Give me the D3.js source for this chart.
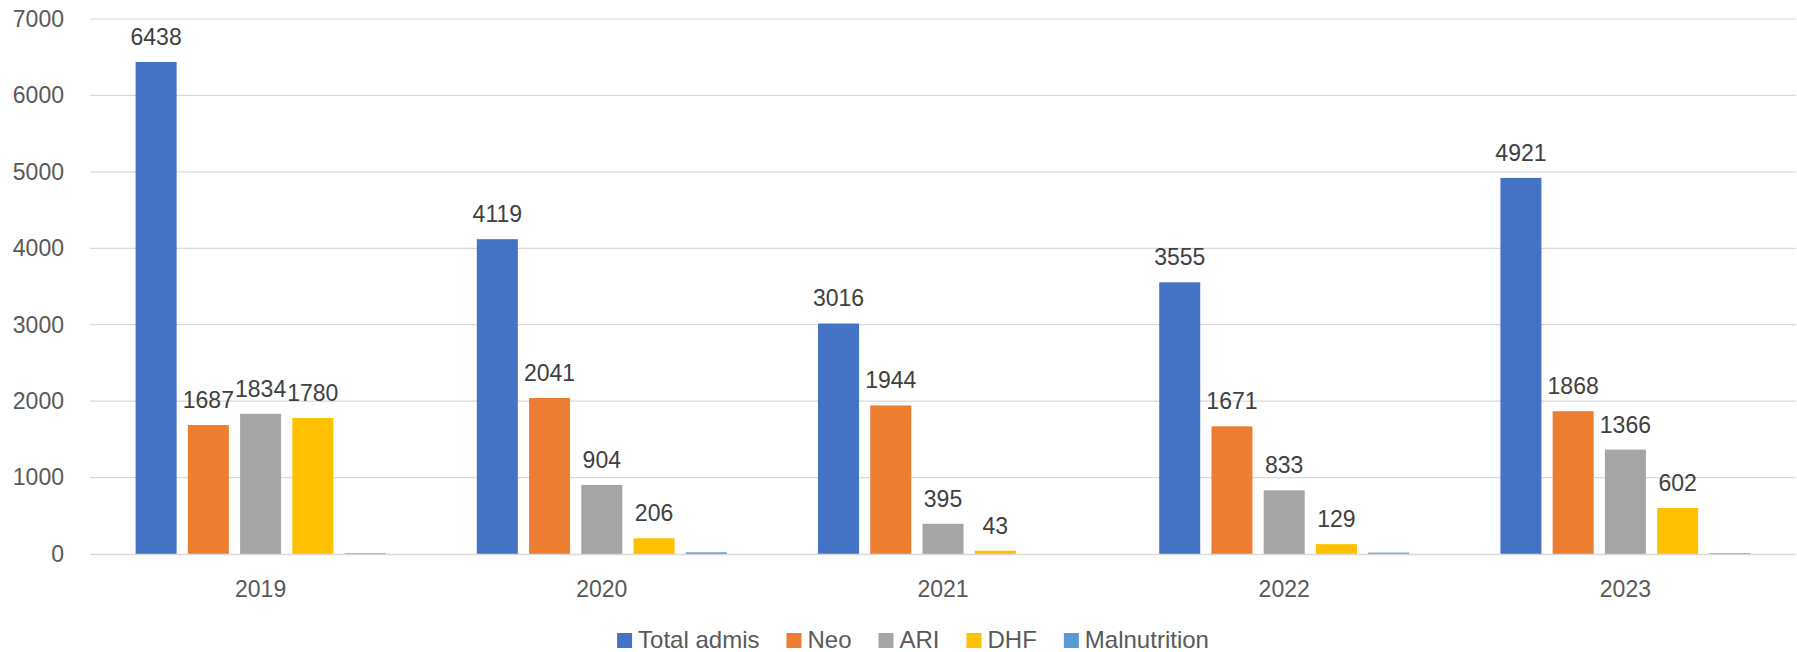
<!DOCTYPE html>
<html>
<head>
<meta charset="utf-8">
<script src="https://cdn.jsdelivr.net/npm/d3@7"></script>
<style>
  html, body { margin: 0; padding: 0; background: #fff; }
  svg { display: block; }
  text { font-family: "Liberation Sans", Arial, sans-serif; }
</style>
</head>
<body>
<svg id="chart" width="1797" height="652"></svg>
<script>
const years = ["2019", "2020", "2021", "2022", "2023"];
const seriesNames = ["Total admis", "Neo", "ARI", "DHF", "Malnutrition"];
const totalAdmis = [6438, 4119, 3016, 3555, 4921];
const neo = [1687, 2041, 1944, 1671, 1868];
const ari = [1834, 904, 395, 833, 1366];
const dhf = [1780, 206, 43, 129, 602];
const malnutrition = [10, 22, 0, 18, 10];
const yTicks = [0, 1000, 2000, 3000, 4000, 5000, 6000, 7000];
const colors = ["#4472C4", "#ED7D31", "#A5A5A5", "#FFC000", "#5B9BD5"];
const showLabel = [true, true, true, true, false];

const seriesValues = [totalAdmis, neo, ari, dhf, malnutrition];
const data = years.map((yr, i) => ({
  year: yr,
  values: seriesNames.map((s, j) => ({ key: s, idx: j, value: seriesValues[j][i] }))
}));

const svg = d3.select("#chart");
const plotLeft = 90, plotRight = 1796, plotTop = 19, plotBottom = 554;

const x = d3.scaleBand().domain(years).range([plotLeft, plotRight]).paddingInner(0.2674).paddingOuter(0.1337);
const xs = d3.scaleBand().domain(seriesNames).range([0, x.bandwidth()]).paddingInner(0.215).paddingOuter(0);
const y = d3.scaleLinear().domain([0, 7000]).range([plotBottom, plotTop]);

// gridlines
svg.append("g").selectAll("line").data(yTicks.filter(t => t > 0)).join("line")
  .attr("x1", plotLeft).attr("x2", plotRight)
  .attr("y1", d => y(d)).attr("y2", d => y(d))
  .attr("stroke", "#d9d9d9").attr("stroke-width", 1.2);

// y axis labels
const yAxis = d3.axisLeft(y).tickValues(yTicks).tickSize(0).tickPadding(26).tickFormat(d3.format("d"));
const ya = svg.append("g").attr("transform", `translate(${plotLeft},0)`).call(yAxis);
ya.select(".domain").remove();
ya.selectAll("text").attr("font-size", 23).attr("fill", "#595959")
  .attr("font-family", "Liberation Sans, Arial, sans-serif");

// bars
const groups = svg.append("g").selectAll("g").data(data).join("g")
  .attr("transform", d => `translate(${x(d.year)},0)`);
groups.selectAll("rect").data(d => d.values).join("rect")
  .attr("x", d => xs(d.key))
  .attr("width", xs.bandwidth())
  .attr("y", d => y(d.value))
  .attr("height", d => plotBottom - y(d.value))
  .attr("fill", d => colors[d.idx]);

// data labels
groups.selectAll("text.lbl").data(d => d.values.filter(v => showLabel[v.idx])).join("text")
  .attr("class", "lbl")
  .attr("x", d => xs(d.key) + xs.bandwidth() / 2)
  .attr("y", d => y(d.value) - 17)
  .attr("text-anchor", "middle")
  .attr("font-size", 23)
  .attr("fill", "#404040")
  .text(d => d.value);

// x axis line
svg.append("line").attr("x1", plotLeft).attr("x2", plotRight)
  .attr("y1", plotBottom + 0.5).attr("y2", plotBottom + 0.5)
  .attr("stroke", "#d9d9d9").attr("stroke-width", 1.5);

// x axis labels
const xAxis = d3.axisBottom(x).tickSize(0).tickPadding(0);
const xa = svg.append("g").attr("transform", `translate(0,${plotBottom})`).call(xAxis);
xa.select(".domain").remove();
xa.selectAll("text").attr("font-size", 23).attr("fill", "#595959")
  .attr("font-family", "Liberation Sans, Arial, sans-serif")
  .attr("dy", null).attr("y", 43);

// legend
const legend = svg.append("g");
const items = legend.selectAll("g").data(seriesNames).join("g");
items.append("rect").attr("width", 15).attr("height", 15).attr("y", 633)
  .attr("fill", (d, i) => colors[i]);
items.append("text").attr("x", 21).attr("y", 648).attr("font-size", 24)
  .attr("fill", "#595959").text(d => d);
const widths = [];
items.each(function () {
  widths.push(21 + d3.select(this).select("text").node().getComputedTextLength());
});
const gap = 27;
const total = widths.reduce((a, b) => a + b, 0) + gap * (widths.length - 1);
let cx = 913 - total / 2;
items.each(function (d, i) {
  d3.select(this).attr("transform", `translate(${cx},0)`);
  cx += widths[i] + gap;
});
</script>
</body>
</html>
